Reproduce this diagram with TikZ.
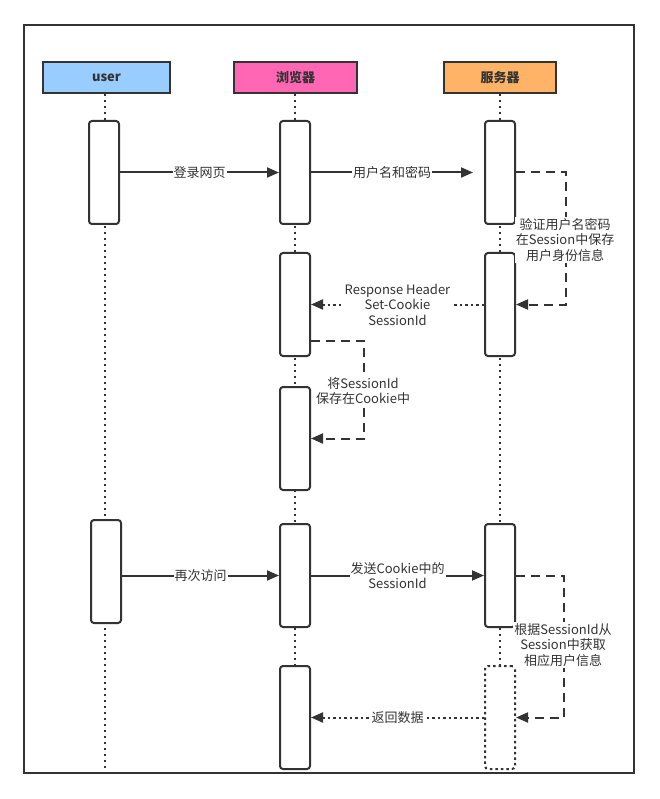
\documentclass[tikz,border=0pt]{standalone}
\usepackage{fontspec}
\setmainfont{Noto Sans CJK SC}
\usetikzlibrary{arrows.meta}
\definecolor{linegray}{HTML}{333333}
\definecolor{userblue}{HTML}{99CCFF}
\definecolor{browserpink}{HTML}{FF66B3}
\definecolor{serverorange}{HTML}{FFB366}

\begin{document}
\begin{tikzpicture}[x=1pt,y=-1pt]
\tikzset{head/.style={draw=linegray, line width=2pt, minimum height=31pt, inner sep=0pt, text=linegray, font=\bfseries\fontsize{13}{15}\selectfont},
 act/.style={draw=linegray, fill=white, line width=2pt, rounded corners=3pt, minimum width=30pt, minimum height=103pt, inner sep=0pt},
 life/.style={draw=linegray, line width=2pt, dash pattern=on 2pt off 4pt},
 msg/.style={draw=linegray, line width=2pt, -{Triangle[length=12pt,width=10pt]}},
 ret/.style={msg, dash pattern=on 2.5pt off 3pt},
 selfmsg/.style={msg, dash pattern=on 9pt off 6pt},
 lbl/.style={fill=white, text=linegray, align=center, inner sep=1pt, font=\fontsize{13}{15.5}\selectfont}}
\fill[white] (0,0) rectangle (659,799);
\useasboundingbox (0,0) rectangle (659,799);
\draw[linegray, line width=2.2pt] (24,25) rectangle (634,773);
\node[head, fill=userblue, minimum width=127pt] (user) at (106.5,77.5) {user};
\node[head, fill=browserpink, minimum width=123pt] (browser) at (295.5,77.5) {浏览器};
\node[head, fill=serverorange, minimum width=112pt] (server) at (500,77.5) {服务器};
\coordinate (uend) at (105,773);
\coordinate (bend) at (295,773);
\coordinate (send) at (500,773);
\draw[life] (user.south -| uend) -- (uend);
\draw[life] (browser.south -| bend) -- (bend);
\draw[life] (server.south -| send) -- (send);
\node[act] (u1) at (104,172.5) {};
\node[act] (b1) at (295,172.5) {};
\node[act] (s1) at (500,172.5) {};
\node[act] (b2) at (295,304.5) {};
\node[act] (s2) at (500,304.5) {};
\node[act] (b3) at (295,438.5) {};
\node[act] (u2) at (106,571.5) {};
\node[act] (b4) at (295,575.5) {};
\node[act] (s3) at (500,575.5) {};
\node[act] (b5) at (295,717.5) {};
\node[act, dash pattern=on 2.5pt off 3pt] (s4) at (500,717.5) {};
\coordinate (p1) at (473,172.5);
\draw[msg] (u1) -- node[lbl] {登录网页} (b1);
\draw[msg] (b1) -- node[lbl] {用户名和密码} (p1);
\draw[selfmsg] (s1.east) -- ++(50,0) |- (s2.east);
\node[lbl] at (565,240) {验证用户名密码\\在Session中保存\\用户身份信息};
\draw[ret] (s2) -- node[lbl] {Response Header\\Set-Cookie\\SessionId} (b2);
\draw[selfmsg] ([yshift=-36pt]b2.east) -- ++(53,0) |- (b3.east);
\node[lbl] at (363,391) {将SessionId\\保存在Cookie中};
\draw[msg] (u2.east |- b4) -- node[lbl] {再次访问} (b4);
\draw[msg] (b4) -- node[lbl] {发送Cookie中的\\SessionId} (s3);
\draw[selfmsg] (s3.east) -- ++(48,0) |- (s4.east);
\node[lbl] at (563,645) {根据SessionId从\\Session中获取\\相应用户信息};
\draw[ret] (s4) -- node[lbl] {返回数据} (b5);
\end{tikzpicture}
\end{document}
